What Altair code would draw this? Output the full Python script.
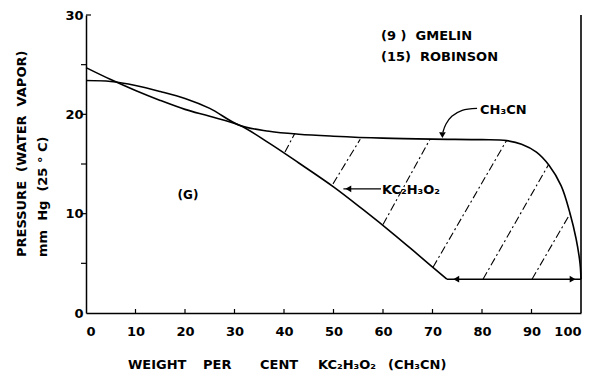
import altair as alt
import pandas as pd

# ---- data ----
a_x = [0, 5, 10, 15, 20, 25, 31, 37, 43, 50, 56, 62, 67, 72.9]
a_y = [24.7, 23.5, 22.4, 21.4, 20.5, 19.8, 18.9, 17.1, 15.1, 12.7, 10.4, 8.0, 5.9, 3.4]

b_x = [0, 5, 10, 15, 20, 25, 31, 37, 43, 50, 60, 70, 80, 85, 88, 91, 93.5, 96, 97.8, 99, 99.8, 100]
b_y = [23.4, 23.3, 22.9, 22.3, 21.6, 20.6, 18.9, 18.3, 18.0, 17.8, 17.6, 17.5, 17.45, 17.35, 17.0, 16.2, 14.9, 12.8, 10.0, 7.5, 5.0, 3.4]

hatch_x1 = [40.2, 49.9, 60.0, 70.1, 80.2, 90.1]
hatch_y1 = [16.2, 13.0, 8.9, 4.6, 3.4, 3.4]
hatch_x2 = [42.2, 55.4, 69.5, 85.0, 93.4, 97.8]
hatch_y2 = [18.1, 17.5, 17.5, 17.4, 14.9, 10.0]

tie_x1, tie_x2, tie_y = [72.9], [100], [3.4]

ch3cn_arrow_x = [79.0, 76.0, 73.9, 72.7, 72.1]
ch3cn_arrow_y = [20.6, 20.4, 19.8, 19.0, 18.2]
kc_arrow_x1, kc_arrow_x2, kc_arrow_y = [59.6], [52.0], [12.5]

head_x = [72.0, 53.0, 74.8, 98.3]
head_y = [17.9, 12.5, 3.4, 3.4]
head_shape = ["triangle-down", "triangle-left", "triangle-left", "triangle-right"]

label_text = ["(9\u00a0)\u00a0\u00a0GMELIN", "(15)\u00a0\u00a0ROBINSON", "CH\u2083CN", "KC\u2082H\u2083O\u2082"]
label_x = [59.6, 59.6, 79.6, 59.8]
label_y = [27.9, 25.8, 20.4, 12.4]
g_text, g_x, g_y = ["(G)"], [20.6], [11.9]

x_ticks = [0, 10, 20, 30, 40, 50, 60, 70, 80, 90, 100]
x_minor = [10, 20, 30, 40, 50, 60, 70, 80, 90]
y_ticks = [0, 10, 20, 30]
y_minor = [5, 10, 15, 20, 25]

x_title_words = ["WEIGHT", "PER", "CENT", "KC\u2082H\u2083O\u2082", "(CH\u2083CN)"]
x_title_left_px = [42, 117, 174, 232, 302]

FONT = "DejaVu Sans"
xs = alt.Scale(domain=[0, 100], nice=False, zero=False)
ys = alt.Scale(domain=[0, 30], nice=False, zero=False)
xax = alt.Axis(values=x_ticks, ticks=False, tickSize=0, grid=False, title=None,
               labelFont=FONT, labelFontWeight="bold", labelFontSize=13, labelColor="black",
               labelPadding=12, domainColor="black", domainWidth=1.5, format="d")
yax = alt.Axis(values=y_ticks, ticks=False, tickSize=0, grid=False, title=None,
               labelFont=FONT, labelFontWeight="bold", labelFontSize=13, labelColor="black",
               labelPadding=3, domainColor="black", domainWidth=1.5, format="d")

def X(f):
    return alt.X(f, type="quantitative", scale=xs, axis=xax)

def Y(f):
    return alt.Y(f, type="quantitative", scale=ys, axis=yax)

curves = pd.DataFrame(
    [{"x": x, "y": y, "c": "A", "o": i} for i, (x, y) in enumerate(zip(a_x, a_y))]
    + [{"x": x, "y": y, "c": "B", "o": i} for i, (x, y) in enumerate(zip(b_x, b_y))]
)
curve_layer = alt.Chart(curves).mark_line(
    color="black", strokeWidth=1.6, interpolate="catmull-rom"
).encode(x=X("x"), y=Y("y"), detail="c:N", order="o:Q")

hatch = pd.DataFrame({"x": hatch_x1, "y": hatch_y1, "x2": hatch_x2, "y2": hatch_y2})
hatch_layer = alt.Chart(hatch).mark_rule(
    color="black", strokeWidth=1.1, strokeDash=[8, 3, 2, 3]
).encode(x=X("x"), y=Y("y"), x2="x2:Q", y2="y2:Q")

tie = pd.DataFrame({"x": tie_x1, "x2": tie_x2, "y": tie_y})
tie_layer = alt.Chart(tie).mark_rule(color="black", strokeWidth=1.6).encode(
    x=X("x"), x2="x2:Q", y=Y("y"))

kc = pd.DataFrame({"x": kc_arrow_x1, "x2": kc_arrow_x2, "y": kc_arrow_y})
kc_layer = alt.Chart(kc).mark_rule(color="black", strokeWidth=1.3).encode(
    x=X("x"), x2="x2:Q", y=Y("y"))

ch = pd.DataFrame({"x": ch3cn_arrow_x, "y": ch3cn_arrow_y, "o": list(range(len(ch3cn_arrow_x)))})
ch_layer = alt.Chart(ch).mark_line(color="black", strokeWidth=1.3, interpolate="catmull-rom").encode(
    x=X("x"), y=Y("y"), order="o:Q")

heads = pd.DataFrame({"x": head_x, "y": head_y, "s": head_shape})
head_layer = alt.Chart(heads).mark_point(filled=True, color="black", opacity=1, size=45).encode(
    x=X("x"), y=Y("y"), shape=alt.Shape("s:N", scale=None))

labels = pd.DataFrame({"x": label_x, "y": label_y, "t": label_text})
label_layer = alt.Chart(labels).mark_text(
    font=FONT, fontWeight="bold", fontSize=13, align="left", baseline="middle", color="black"
).encode(x=X("x"), y=Y("y"), text="t:N")
gdf = pd.DataFrame({"x": g_x, "y": g_y, "t": g_text})
g_layer = alt.Chart(gdf).mark_text(
    font=FONT, fontWeight="bold", fontSize=12, align="center", baseline="middle", color="black"
).encode(x=X("x"), y=Y("y"), text="t:N")

right = pd.DataFrame({"x": [100], "y": [0], "y2": [30]})
right_layer = alt.Chart(right).mark_rule(color="black", strokeWidth=1.6).encode(
    x=X("x"), y=Y("y"), y2="y2:Q")

xt = pd.DataFrame({"x": x_minor})
xtick_layer = alt.Chart(xt).mark_rule(color="black", strokeWidth=1.2).encode(
    x=X("x"), y=alt.value(298), y2=alt.value(294))

yt = pd.DataFrame({"y": y_minor})
ytick_layer = alt.Chart(yt).mark_rule(color="black", strokeWidth=1.2).encode(
    y=Y("y"), x=alt.value(0), x2=alt.value(-5))
ytop = pd.DataFrame({"y": [30]})
ytop_layer = alt.Chart(ytop).mark_rule(color="black", strokeWidth=1.2).encode(
    y=Y("y"), x=alt.value(0), x2=alt.value(5))

titles = pd.DataFrame({"t": ["x"]})
ytitle1 = alt.Chart(titles).mark_text(
    text="PRESSURE\u00a0\u00a0(WATER\u00a0\u00a0VAPOR)", font=FONT, fontWeight="bold", fontSize=13,
    angle=270, align="left", baseline="middle", color="black"
).encode(x=alt.value(-64), y=alt.value(242))
ytitle2 = alt.Chart(titles).mark_text(
    text="mm\u00a0\u00a0Hg\u00a0\u00a0(25\u00a0\u00b0\u00a0C)", font=FONT, fontWeight="bold", fontSize=13,
    angle=270, align="left", baseline="middle", color="black"
).encode(x=alt.value(-43), y=alt.value(242))

xtitle_layers = [
    alt.Chart(titles).mark_text(
        text=w, font=FONT, fontWeight="bold", fontSize=13, align="left",
        baseline="middle", color="black"
    ).encode(x=alt.value(px), y=alt.value(350))
    for w, px in zip(x_title_words, x_title_left_px)
]

chart = alt.layer(
    curve_layer, hatch_layer, tie_layer, kc_layer, ch_layer, head_layer,
    label_layer, g_layer, right_layer, xtick_layer, ytick_layer, ytop_layer,
    ytitle1, ytitle2, *xtitle_layers
).properties(
    width=495, height=298,
    padding={"left": 86, "top": 15, "right": 21, "bottom": 70},
    autosize=alt.AutoSizeParams(type="none"),
    background="white",
).configure_view(stroke=None)

chart.save("out.html", embed_options={"renderer": "svg", "actions": False})
